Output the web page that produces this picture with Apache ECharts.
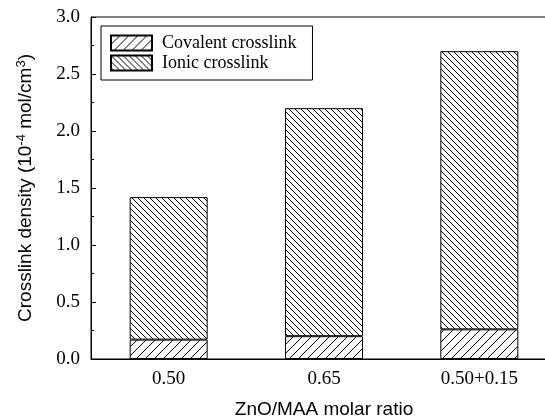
<!DOCTYPE html>
<html>

<head>
    <meta charset="UTF-8">
    <title>Crosslink density</title>
    <script src="https://cdn.jsdelivr.net/npm/echarts@6.0.0/dist/echarts.min.js"></script>
</head>

<body style="margin: 0;">
    <div id="main" style="width: 545px; height: 419px;"></div>
    <script>
        // data
        const categories = ['0.50', '0.65', '0.50+0.15'];
        const covalent = [0.17, 0.20, 0.26];
        const ionic = [1.25, 2.00, 2.44];
        const seriesNames = ['Covalent crosslink', 'Ionic crosslink'];

        // hatch tile: dir 1 = "/", dir -1 = "\"
        function hatch(p, dir) {
            const c = document.createElement('canvas');
            c.width = p;
            c.height = p;
            const ctx = c.getContext('2d');
            ctx.fillStyle = '#fff';
            ctx.fillRect(0, 0, p, p);
            ctx.strokeStyle = '#000';
            ctx.lineWidth = 1;
            ctx.beginPath();
            for (let k = -1; k <= 1; k++) {
                if (dir > 0) {
                    ctx.moveTo(k * p, p);
                    ctx.lineTo(k * p + p, 0);
                } else {
                    ctx.moveTo(k * p, 0);
                    ctx.lineTo(k * p + p, p);
                }
            }
            ctx.stroke();
            return { image: c, repeat: 'repeat' };
        }

        const serif = 'Liberation Serif';
        const sans = 'Liberation Sans';

        const option = {
            animation: false,
            backgroundColor: '#fff',
            grid: {
                left: 91,
                top: 17,
                width: 466,
                height: 342,
                outerBoundsMode: 'none',
                containLabel: false,
                show: true,
                borderColor: '#000',
                borderWidth: 1
            },
            legend: {
                orient: 'vertical',
                left: 101,
                top: 26,
                padding: [8, 16, 8, 9],
                icon: 'rect',
                itemWidth: 41,
                itemHeight: 15,
                itemGap: 2,
                borderColor: '#000',
                borderWidth: 1,
                textStyle: { fontFamily: serif, fontSize: 18, color: '#000', padding: [0, 0, 0, 5] },
                data: seriesNames
            },
            xAxis: [
                {
                    type: 'category',
                    data: categories,
                    name: 'ZnO/MAA molar ratio',
                    nameLocation: 'middle',
                    nameGap: 41,
                    nameTextStyle: { fontFamily: sans, fontSize: 19, color: '#000' },
                    axisLine: { lineStyle: { color: '#000', width: 1 } },
                    axisTick: { alignWithLabel: true, length: 6, lineStyle: { color: '#000' } },
                    axisLabel: { fontFamily: serif, fontSize: 19, color: '#000', margin: 11 }
                },
                {
                    type: 'category',
                    data: categories,
                    position: 'bottom',
                    axisLine: { show: false },
                    axisTick: { length: 3, interval: 0, lineStyle: { color: '#000' } },
                    axisLabel: { show: false }
                }
            ],
            yAxis: {
                type: 'value',
                min: 0,
                max: 3,
                interval: 0.5,
                name: '{t|Crosslink density (10}{s|-4}{t| mol/cm}{s|3}{t|)}',
                nameLocation: 'middle',
                nameGap: 54,
                nameTextStyle: {
                    fontFamily: sans,
                    fontSize: 19,
                    color: '#000',
                    rich: {
                        t: { fontFamily: sans, fontSize: 19, color: '#000', lineHeight: 22 },
                        s: { fontFamily: sans, fontSize: 13, color: '#000', verticalAlign: 'top', lineHeight: 22 }
                    }
                },
                axisLine: { show: true, lineStyle: { color: '#000', width: 1 } },
                axisTick: { show: true, inside: true, length: 5, lineStyle: { color: '#000' } },
                minorTick: { show: true, splitNumber: 2, length: 3, lineStyle: { color: '#000' } },
                splitLine: { show: false },
                axisLabel: {
                    fontFamily: serif,
                    fontSize: 19,
                    color: '#000',
                    margin: 11,
                    formatter: v => v.toFixed(1)
                }
            },
            series: [
                {
                    name: seriesNames[0],
                    type: 'bar',
                    stack: 'total',
                    barWidth: 78,
                    data: covalent,
                    itemStyle: { color: hatch(9, 1), borderColor: '#000', borderWidth: 1 }
                },
                {
                    name: seriesNames[1],
                    type: 'bar',
                    stack: 'total',
                    barWidth: 78,
                    data: ionic,
                    itemStyle: { color: hatch(6, -1), borderColor: '#000', borderWidth: 1 }
                }
            ]
        };

        const myChart = echarts.init(document.getElementById('main'));
        myChart.setOption(option);
    </script>
</body>

</html>
